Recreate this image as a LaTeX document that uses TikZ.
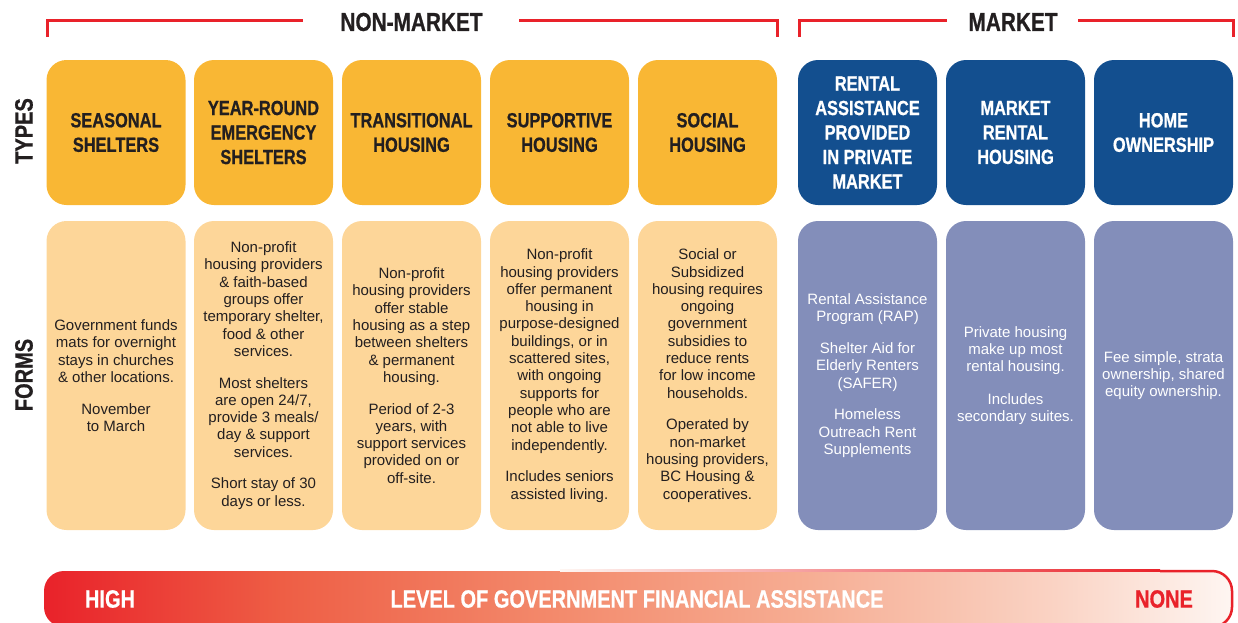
\documentclass[tikz,border=0pt]{standalone}
\usepackage{fontspec}
\setmainfont{Liberation Sans}
\newfontfamily\condfont[FakeStretch=0.8,FakeBold=0.7]{Liberation Sans}

\definecolor{typeorange}{HTML}{F9B734}
\definecolor{formorange}{HTML}{FDD699}
\definecolor{marketblue}{HTML}{134F8F}
\definecolor{formblue}{HTML}{838EBA}
\definecolor{barred}{HTML}{E9222A}
\definecolor{barpale}{HTML}{FEF6F2}
\definecolor{inkdark}{HTML}{231F20}

% red to pale, through coral and salmon
\pgfdeclarehorizontalshading{assistbar}{100bp}{
  color(0bp)=(barred); color(25bp)=(barred);
  color(35bp)=(rgb,255:red,238;green,94;blue,69);
  color(46.5bp)=(rgb,255:red,243;green,138;blue,108);
  color(57bp)=(rgb,255:red,246;green,173;blue,147);
  color(67.5bp)=(rgb,255:red,250;green,211;blue,196);
  color(75bp)=(barpale); color(100bp)=(barpale)}

\tikzset{
  typebox/.style={rounded corners=20pt, minimum width=139pt, minimum height=145pt,
    inner sep=0pt, align=center, text=inkdark,
    font=\condfont\bfseries\fontsize{20.5}{24.5}\selectfont},
  formbox/.style={rounded corners=20pt, minimum width=139pt, minimum height=309pt,
    inner sep=0pt, align=center, text=inkdark,
    font=\fontsize{15}{17.3}\selectfont},
  sidelabel/.style={rotate=90, text=inkdark, font=\condfont\bfseries\fontsize{25}{25}\selectfont},
  grouplabel/.style={text=inkdark, font=\condfont\bfseries\fontsize{26}{26}\selectfont},
  barlabel/.style={text=white, font=\condfont\bfseries\fontsize{25}{25}\selectfont},
  bracket/.style={draw=barred, line width=3pt}
}

\begin{document}
\begin{tikzpicture}[x=1pt,y=-1pt]
\useasboundingbox (0,0) rectangle (1238,622);
\clip (0,0) rectangle (1238,622);

% group brackets
\path[bracket] (47,37) -- (47,20) -- (303,20);
\path[bracket] (519,20) -- (777,20) -- (777,37);
\path[bracket] (799,37) -- (799,20) -- (947,20);
\path[bracket] (1078,20) -- (1233,20) -- (1233,37);
\node[grouplabel] (nonmarket) at (411.5,22) {NON-MARKET};
\node[grouplabel] (market) at (1013,22) {MARKET};

\node[sidelabel] (types) at (24,131) {TYPES};
\node[sidelabel] (forms) at (24,375) {FORMS};

% types row
\node[typebox, fill=typeorange] (seasonal) at (116,132.5) {SEASONAL\\SHELTERS};
\node[typebox, fill=typeorange] (yearround) at (263.5,132.5) {YEAR-ROUND\\EMERGENCY\\SHELTERS};
\node[typebox, fill=typeorange] (transitional) at (411.5,132.5) {TRANSITIONAL\\HOUSING};
\node[typebox, fill=typeorange] (supportive) at (559.5,132.5) {SUPPORTIVE\\HOUSING};
\node[typebox, fill=typeorange] (social) at (707.5,132.5) {SOCIAL\\HOUSING};
\node[typebox, fill=marketblue, text=white] (rentalassist) at (867.5,132.5) {RENTAL\\ASSISTANCE\\PROVIDED\\IN PRIVATE\\MARKET};
\node[typebox, fill=marketblue, text=white] (marketrental) at (1015.5,132.5) {MARKET\\RENTAL\\HOUSING};
\node[typebox, fill=marketblue, text=white] (ownership) at (1163.5,132.5) {HOME\\OWNERSHIP};

% forms row
\node[formbox, fill=formorange] (seasonalform) at (116,375.5)
  {Government funds\\mats for overnight\\stays in churches\\\& other locations.\\[14.4pt]November\\to March};
\node[formbox, fill=formorange] (yearroundform) at (263.5,375.5)
  {Non-profit\\housing providers\\\& faith-based\\groups offer\\temporary shelter,\\food \& other\\services.\\[14.4pt]Most shelters\\are open 24/7,\\provide 3 meals/\\day \& support\\services.\\[14.4pt]Short stay of 30\\days or less.};
\node[formbox, fill=formorange] (transitionalform) at (411.5,375.5)
  {Non-profit\\housing providers\\offer stable\\housing as a step\\between shelters\\\& permanent\\housing.\\[14.4pt]Period of 2-3\\years, with\\support services\\provided on or\\off-site.};
\node[formbox, fill=formorange] (supportiveform) at (559.5,375.5)
  {Non-profit\\housing providers\\offer permanent\\housing in\\purpose-designed\\buildings, or in\\scattered sites,\\with ongoing\\supports for\\people who are\\not able to live\\independently.\\[14.4pt]Includes seniors\\assisted living.};
\node[formbox, fill=formorange] (socialform) at (707.5,375.5)
  {Social or\\Subsidized\\housing requires\\ongoing\\government\\subsidies to\\reduce rents\\for low income\\households.\\[14.4pt]Operated by\\non-market\\housing providers,\\BC Housing \&\\cooperatives.};
\node[formbox, fill=formblue, text=white] (rentalassistform) at (867.5,375.5)
  {Rental Assistance\\Program (RAP)\\[14.4pt]Shelter Aid for\\Elderly Renters\\(SAFER)\\[14.4pt]Homeless\\Outreach Rent\\Supplements};
\node[formbox, fill=formblue, text=white] (marketrentalform) at (1015.5,375.5)
  {Private housing\\make up most\\rental housing.\\[15pt]Includes\\secondary suites.};
\node[formbox, fill=formblue, text=white] (ownershipform) at (1163.5,375.5)
  {Fee simple, strata\\ownership, shared\\equity ownership.};

% assistance bar
\shade[shading=assistbar, rounded corners=20pt] (44,571) rectangle (1233,627);
\shade[left color=barpale, right color=barred] (560,569.5) rectangle (1160,571.8);
\begin{scope}
\clip (1160,560) rectangle (1238,630);
\draw[barred, line width=2.5pt, rounded corners=20pt] (44,571) rectangle (1232,627);
\end{scope}
\node[barlabel] (high) at (110,599) {HIGH};
\node[barlabel] (level) at (637,599) {LEVEL OF GOVERNMENT FINANCIAL ASSISTANCE};
\node[barlabel, text=barred] (none) at (1164,599) {NONE};
\end{tikzpicture}
\end{document}
